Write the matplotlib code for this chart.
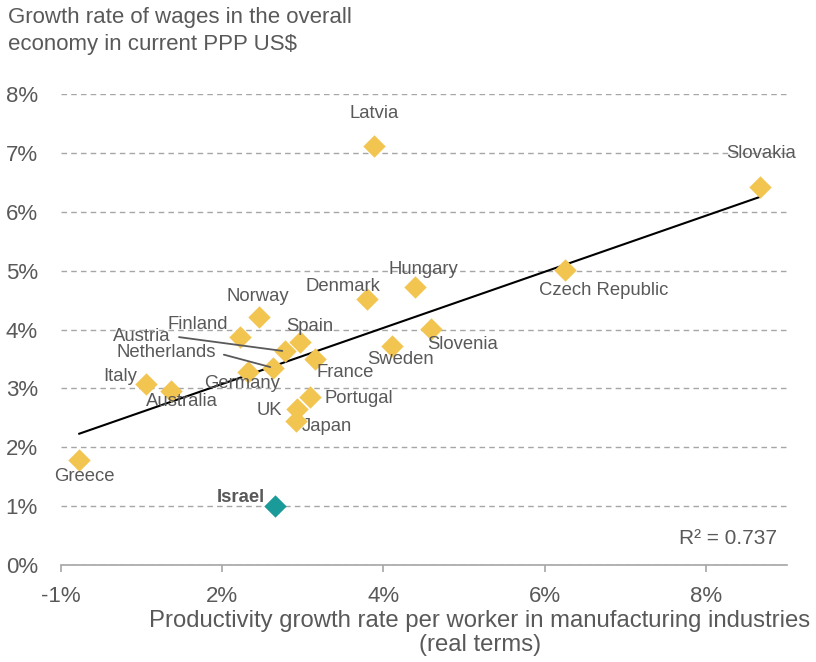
import numpy as np
import matplotlib
matplotlib.use("Agg")
import matplotlib.pyplot as plt

plt.rcParams['font.family'] = ['Liberation Sans', 'DejaVu Sans']

# data (x position on the axis, y in %)
countries = ["Latvia", "Slovakia", "Czech Republic", "Hungary", "Denmark", "Slovenia",
             "Sweden", "Norway", "Finland", "Spain", "Austria", "Netherlands", "Germany",
             "France", "Italy", "Australia", "Portugal", "UK", "Japan", "Greece"]
productivity = [3.88, 8.66, 6.25, 4.39, 3.79, 4.59,
                4.11, 2.46, 2.22, 2.97, 2.78, 2.63, 2.32,
                3.15, 1.06, 1.37, 3.09, 2.93, 2.92, 0.23]
wages = [7.12, 6.42, 5.01, 4.73, 4.52, 4.01,
         3.72, 4.21, 3.88, 3.79, 3.63, 3.35, 3.27,
         3.50, 3.08, 2.95, 2.86, 2.65, 2.45, 1.78]
israel_x, israel_y = 2.65, 1.00

# trend line as drawn in the chart (value at the two ends)
trend_x = [0.23, 8.66]
trend_y = [2.23, 6.25]
r_squared = 0.737

x_ticks = [0, 2, 4, 6, 8]
x_tick_labels = ["-1%", "2%", "4%", "6%", "8%"]
y_ticks = [0, 1, 2, 3, 4, 5, 6, 7, 8]

# label offsets in points (dx, dy)
offsets = {
    "Latvia": (0, 23), "Slovakia": (1, 24), "Czech Republic": (28, -15),
    "Hungary": (6, 12), "Denmark": (-17, 9), "Slovenia": (23, -11),
    "Sweden": (6, -10), "Norway": (-1, 15), "Finland": (-30, 9),
    "Spain": (7, 11), "Austria": (-103, 11), "Netherlands": (-77, 11),
    "Germany": (-4, -8), "France": (22, -10), "Italy": (-19, 5),
    "Australia": (8, -7), "Portugal": (35, -1), "UK": (-20, -1),
    "Japan": (22, -4), "Greece": (4, -12),
}
leaders = ["Austria", "Netherlands"]

grey = "#595959"
yellow = "#F2C550"
teal = "#1A9A98"

fig = plt.figure(figsize=(8.16, 6.62), dpi=100)
ax = fig.add_axes([60.7 / 816, 1 - 565 / 662, 726.3 / 816, 471 / 662])

ax.scatter(productivity, wages, marker="D", s=130, color=yellow, zorder=3, linewidths=0)
ax.scatter([israel_x], [israel_y], marker="D", s=130, color=teal, zorder=3, linewidths=0)

ax.plot(trend_x, trend_y, color="black", lw=1.5, zorder=2)

for name, x, y in zip(countries, productivity, wages):
    dx, dy = offsets[name]
    if name in leaders:
        ax.annotate(name, (x, y), xytext=(dx, dy), textcoords="offset points",
                    ha="center", va="center", fontsize=13.3, color=grey,
                    arrowprops=dict(arrowstyle="-", color=grey, lw=1.3,
                                    relpos=(1, 0.5), shrinkA=4, shrinkB=2))
    else:
        ax.annotate(name, (x, y), xytext=(dx, dy), textcoords="offset points",
                    ha="center", va="center", fontsize=13.3, color=grey)

ax.annotate("Israel", (israel_x, israel_y), xytext=(-24.5, 6.5), textcoords="offset points",
            ha="center", va="center", fontsize=13.3, color=grey, fontweight="bold")

ax.text(0.986, 0.057, f"R² = {r_squared}", transform=ax.transAxes, ha="right", va="center",
        fontsize=15, color=grey)

ax.set_xlim(0, 9)
ax.set_ylim(0, 8)
ax.set_xticks(x_ticks)
ax.set_xticklabels(x_tick_labels)
ax.set_yticks(y_ticks)
ax.set_yticklabels([f"{v}%" for v in y_ticks])
ax.yaxis.grid(True, color="#A6A6A6", linestyle=(0, (4, 3)), lw=1)
ax.set_axisbelow(True)
ax.tick_params(axis="x", colors="#A6A6A6", labelcolor=grey, labelsize=16,
               length=5, width=1.2, pad=10)
ax.tick_params(axis="y", length=0, labelcolor=grey, labelsize=16, pad=16.5)
for s in ["top", "right", "left"]:
    ax.spines[s].set_visible(False)
ax.spines["bottom"].set_color("#A6A6A6")
ax.spines["bottom"].set_linewidth(1.2)

fig.text(8 / 816, 1 - 7 / 662, "Growth rate of wages in the overall\neconomy in current PPP US$",
         ha="left", va="top", fontsize=16, color=grey, linespacing=1.4)
fig.text(480 / 816, 1 - 633 / 662,
         "Productivity growth rate per worker in manufacturing industries\n(real terms)",
         ha="center", va="center", fontsize=17.2, color=grey, linespacing=1.15)

fig.savefig("out.png", dpi=100)
